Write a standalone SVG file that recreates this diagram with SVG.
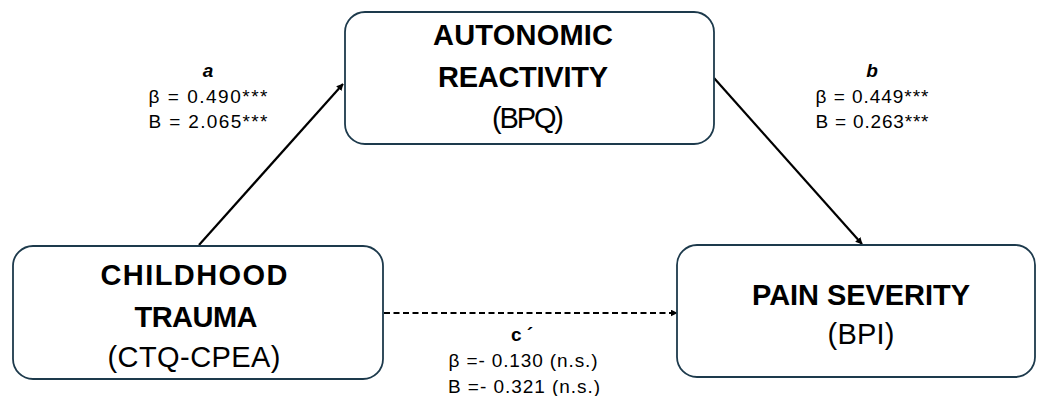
<svg xmlns="http://www.w3.org/2000/svg" width="1038" height="396" viewBox="0 0 1038 396">
<defs>
<marker id="ah" viewBox="0 0 10 10" refX="9" refY="5" markerWidth="7" markerHeight="7" markerUnits="userSpaceOnUse" orient="auto"><path d="M0,0 L10,5 L0,10 z" fill="#000"/></marker>
<style>
.box{fill:#fff;stroke:#1d3a4c;stroke-width:1.8}
.t{font-family:"Liberation Sans",Arial,sans-serif;text-anchor:middle;fill:#000}
.big{font-size:29px;font-weight:bold}
.reg{font-size:29px}
.lab{font-size:19px}
.conn{stroke:#000;stroke-width:2.2;fill:none}
</style>
</defs>
<rect width="1038" height="396" fill="#fff"/>
<g id="connectors">
<line class="conn" x1="199" y1="245" x2="343" y2="84" marker-end="url(#ah)"/>
<line class="conn" x1="714" y1="78" x2="862" y2="244" marker-end="url(#ah)"/>
<line class="conn" x1="384" y1="313" x2="677" y2="313" stroke-width="2.4" stroke-dasharray="6,3.5" marker-end="url(#ah)"/>
</g>
<g id="node-autonomic">
<rect class="box" x="345" y="12" width="369" height="132" rx="20"/>
<text class="t big" x="523" y="45" textLength="180">AUTONOMIC</text>
<text class="t big" x="523" y="87" textLength="170">REACTIVITY</text>
<text class="t reg" x="528" y="128" textLength="72">(BPQ)</text>
</g>
<g id="node-trauma">
<rect class="box" x="13" y="246" width="370" height="133" rx="20"/>
<text class="t big" x="194" y="285" textLength="187">CHILDHOOD</text>
<text class="t big" x="196" y="327" textLength="123">TRAUMA</text>
<text class="t reg" x="194" y="367" textLength="173">(CTQ-CPEA)</text>
</g>
<g id="node-pain">
<rect class="box" x="677" y="245" width="358" height="132" rx="20"/>
<text class="t big" x="861" y="305" textLength="218">PAIN SEVERITY</text>
<text class="t reg" x="861" y="344" textLength="67">(BPI)</text>
</g>
<g id="label-a">
<text class="t lab" x="208" y="77" font-weight="bold" font-style="italic">a</text>
<text class="t lab" x="208" y="103" textLength="119">β = 0.490***</text>
<text class="t lab" x="208" y="128" textLength="119">B = 2.065***</text>
</g>
<g id="label-b">
<text class="t lab" x="872" y="77" font-weight="bold" font-style="italic">b</text>
<text class="t lab" x="872" y="103" textLength="113">β = 0.449***</text>
<text class="t lab" x="872" y="128" textLength="113">B = 0.263***</text>
</g>
<g id="label-c">
<text class="t lab" x="522" y="341" font-weight="bold">c ´</text>
<text class="t lab" x="523" y="367" textLength="149">β =- 0.130 (n.s.)</text>
<text class="t lab" x="524" y="393" textLength="152">B =- 0.321 (n.s.)</text>
</g>
</svg>
